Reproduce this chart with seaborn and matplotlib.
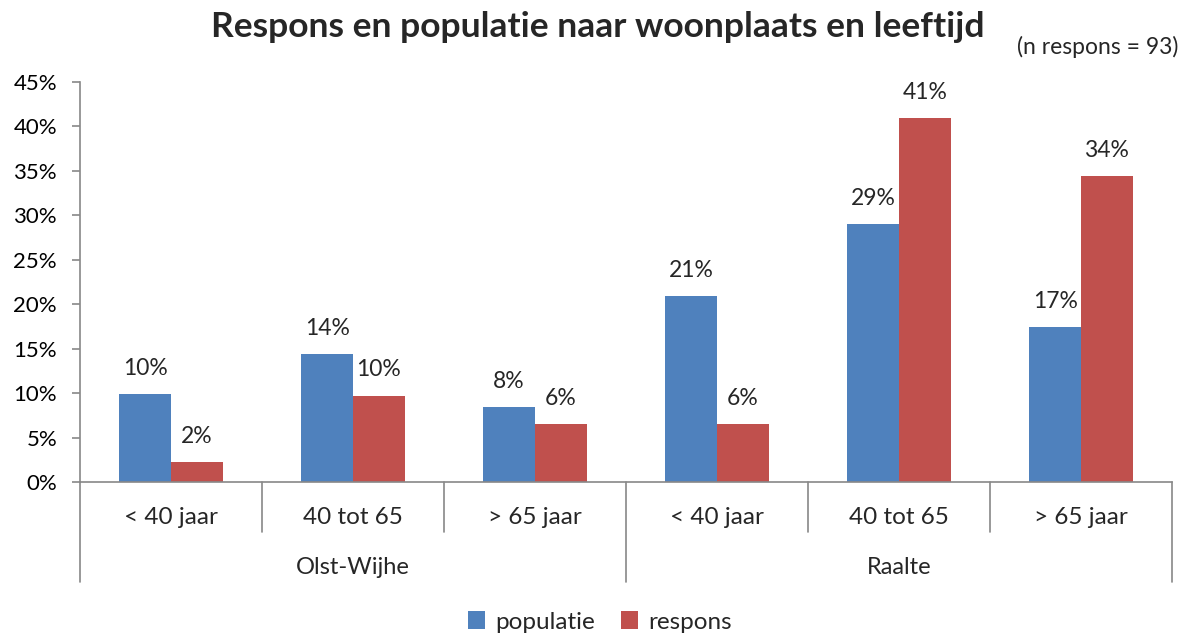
import matplotlib
matplotlib.use("Agg")
import matplotlib.pyplot as plt
import matplotlib.transforms as mtransforms
import seaborn as sns
import pandas as pd

sns.set_theme(style="white")
plt.rcParams['font.family'] = ['Lato', 'DejaVu Sans']

# ---- data ----
towns = ["Olst-Wijhe", "Raalte"]
ages = ["< 40 jaar", "40 tot 65", "> 65 jaar"]
populatie = [9.9, 14.4, 8.4, 20.9, 29.0, 17.4]
respons = [2.2, 9.7, 6.5, 6.5, 40.9, 34.4]
series = ["populatie", "respons"]
colors = ["#4F81BD", "#C0504D"]

title = "Respons en populatie naar woonplaats en leeftijd"
note = "(n respons = 93)"

keys = [f"{t}|{a}" for t in towns for a in ages]
rows = []
for k, p, r in zip(keys, populatie, respons):
    rows.append({"cat": k, "serie": series[0], "val": p})
    rows.append({"cat": k, "serie": series[1], "val": r})
df = pd.DataFrame(rows)

fig = plt.figure(figsize=(11.94, 6.39), dpi=100)
ax = fig.add_axes([80/1194, 1-482/639, (1172-80)/1194, (482-82)/639])

sns.barplot(data=df, x="cat", y="val", hue="serie", order=keys,
            hue_order=series, palette=colors, width=0.57, saturation=1,
            ax=ax, legend=True, linewidth=0)

ax.set_ylim(0, 45)
ax.set_xlim(-0.5, 5.5)
ax.set_yticks(range(0, 50, 5))
ax.set_yticklabels([f"{v}%" for v in range(0, 50, 5)], fontsize=16)
ax.set_xticks([])
ax.set_xlabel("")
ax.set_ylabel("")
for s in ["top", "right"]:
    ax.spines[s].set_visible(False)
for s in ["left", "bottom"]:
    ax.spines[s].set_color("#888888")
    ax.spines[s].set_linewidth(1.2)
ax.tick_params(axis="y", direction="out", length=5.5, width=1.2, color="#888888",
               left=True, pad=11, labelcolor="black")

# data labels
for cont in ax.containers:
    ax.bar_label(cont, labels=[f"{v:.0f}%" for v in cont.datavalues],
                 padding=11, fontsize=16.5)

# hierarchical category axis
trans = mtransforms.blended_transform_factory(ax.transData, ax.transAxes)
h = 400
inner_y = -(532-482)/h
outer_y = -(582-482)/h
for i, key in enumerate(keys):
    ax.text(i, -(517-482)/h, key.split("|")[1], transform=trans,
            ha="center", va="center", fontsize=17.5)
for b in [0.5, 1.5, 3.5, 4.5]:
    ax.plot([b, b], [0, inner_y], transform=trans, color="#888888",
            lw=1.2, clip_on=False)
for b in [-0.5, 2.5, 5.5]:
    ax.plot([b, b], [0, outer_y], transform=trans, color="#888888",
            lw=1.2, clip_on=False)
for j, t in enumerate(towns):
    ax.text(j*3 + 1, -(568-482)/h, t, transform=trans,
            ha="center", va="center", fontsize=17)

# legend
handles, labels = ax.get_legend_handles_labels()
ax.get_legend().remove()
fig.legend(handles, labels, loc="center", bbox_to_anchor=(600/1194, 1-622/639),
           ncol=2, frameon=False, fontsize=17.5, handlelength=0.7,
           handleheight=0.7, handletextpad=0.4, columnspacing=1.1)

fig.text(598/1194, 1-27/639, title, ha="center", va="center",
         fontsize=25.5, fontweight="bold")
fig.text(1178/1194, 1-47/639, note, ha="right", va="center", fontsize=16.5)

fig.savefig("out.png", dpi=100)
